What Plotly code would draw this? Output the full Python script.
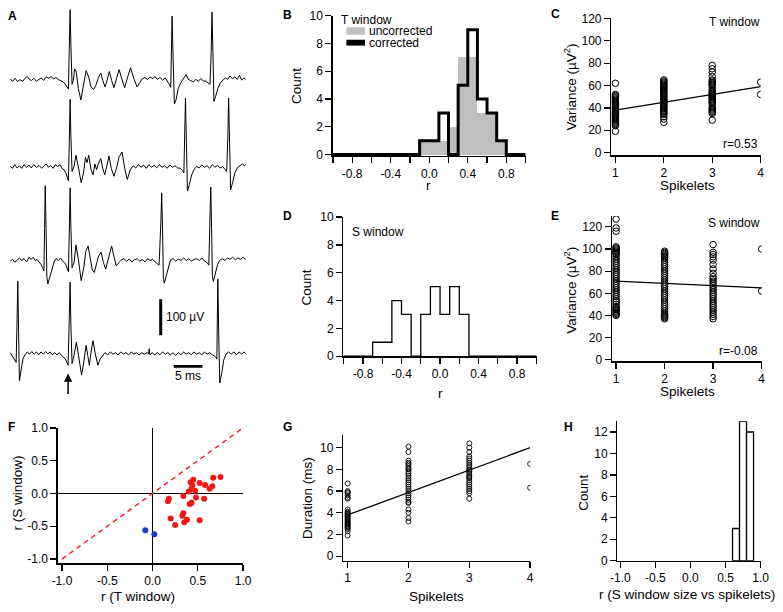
import plotly.graph_objects as go

W, H = 783, 612
FONT = "Liberation Sans, Arial, sans-serif"

# ---------------- Panel A: example traces (time ms, voltage uV rel. baseline) ----------------
A_trace1 = [(0.57,0),(1.02,-5),(1.42,3),(1.82,-6),(2.27,-1),(2.73,-5),(3.13,3),(3.53,8),(3.87,0),(4.27,-3),
            (4.66,3),(5.12,-5),(5.57,0),(5.97,4),(6.37,-3),(6.82,7),(7.28,3),(7.68,8),(8.08,1),(8.53,5),
            (8.99,-1),(9.38,-4),(9.78,-7),(10.12,-13),(10.46,-23),(10.69,-27),(10.83,83),(10.98,193),(11.12,92),
            (11.32,-14),(11.54,-3),(11.77,29),(12.06,20),(12.40,-25),(12.85,-57),(13.25,-21),(13.76,24),(14.22,6),
            (14.62,-21),(15.07,-28),(15.47,-16),(15.92,6),(16.32,17),(16.66,-3),(17.06,-21),(17.40,-3),(17.80,22),
            (18.20,-3),(18.60,-23),(19.05,2),(19.51,27),(19.96,2),(20.47,-23),(20.98,6),(21.50,32),(22.07,2),
            (22.63,-21),(23.09,-9),(23.54,2),(24.00,5),(24.45,0),(24.91,6),(25.36,2),(25.76,8),(26.16,0),
            (26.61,5),(27.07,-2),(27.52,4),(27.92,-5),(28.26,-14),(28.49,-22),(28.61,74),(28.72,175),(28.89,65),
            (29.12,-68),(29.40,-57),(29.80,-25),(30.25,-9),(30.71,4),(31.16,13),(31.56,0),(31.96,-3),(32.42,-7),
            (32.87,0),(33.27,-5),(33.72,2),(34.12,-4),(34.58,-5),(34.98,-9),(35.32,-14),(35.52,74),(35.66,186),
            (35.83,74),(36.00,-61),(36.28,-48),(36.68,-25),(37.14,-9),(37.54,-3),(37.99,4),(38.39,0),(38.79,9),
            (39.24,2),(39.64,7),(40.04,0),(40.44,11),(40.83,-2),(41.23,4),(41.52,0)]
A_trace2 = [(0.57,0),(0.97,-5),(1.36,5),(1.76,-4),(2.16,2),(2.56,-5),(2.96,5),(3.41,-2),(3.81,4),(4.21,-4),
            (4.66,5),(5.12,-3),(5.57,3),(6.03,-5),(6.43,2),(6.82,7),(7.22,-2),(7.62,3),(8.02,-5),(8.42,5),
            (8.81,0),(9.21,5),(9.55,-5),(9.90,-9),(10.24,-18),(10.52,-32),(10.69,-40),(10.83,63),(10.98,186),
            (11.12,81),(11.32,-14),(11.66,0),(12.00,31),(12.40,0),(12.91,-45),(13.31,-18),(13.65,25),(13.93,11),
            (14.22,31),(14.62,-9),(14.96,-23),(15.30,7),(15.58,-9),(15.92,9),(16.32,22),(16.66,-5),(17.00,-23),
            (17.35,0),(17.74,29),(18.14,-5),(18.60,-27),(19.05,-5),(19.51,27),(20.02,40),(20.47,-5),(20.93,-36),
            (21.44,-9),(21.95,2),(22.41,-4),(22.86,5),(23.32,-2),(23.77,4),(24.23,-5),(24.68,5),(25.14,-2),
            (25.59,3),(26.05,-4),(26.50,5),(26.96,-2),(27.41,2),(27.87,-5),(28.32,4),(28.78,-2),(29.23,2),
            (29.69,-4),(30.14,-5),(30.54,-11),(30.77,-18),(30.91,81),(31.05,189),(31.22,63),(31.39,-68),
            (31.73,-50),(32.13,-23),(32.53,-9),(32.98,0),(33.44,-4),(33.89,4),(34.35,-2),(34.80,2),(35.26,-5),
            (35.71,5),(36.17,-2),(36.62,3),(37.08,-4),(37.53,0),(37.87,-7),(38.22,-14),(38.42,81),(38.56,189),
            (38.73,63),(38.90,-65),(39.24,-45),(39.64,-18),(40.09,-3),(40.55,2),(40.95,7),(41.29,2),(41.52,5)]
A_trace3 = [(0.57,-2),(0.97,3),(1.37,-5),(1.76,2),(2.16,7),(2.56,0),(2.96,5),(3.41,-4),(3.81,9),(4.21,3),
            (4.55,9),(4.89,0),(5.23,3),(5.57,-4),(5.92,-11),(6.20,-20),(6.43,-29),(6.54,88),(6.65,207),(6.80,88),
            (6.94,-47),(7.11,-65),(7.40,-49),(7.79,-22),(8.19,-4),(8.53,5),(8.93,0),(9.33,7),(9.67,-2),(10.01,-6),
            (10.30,-13),(10.58,-27),(10.69,-31),(10.83,79),(10.98,201),(11.12,88),(11.32,-20),(11.66,-6),(12.00,43),
            (12.40,5),(12.91,-56),(13.36,-20),(13.71,25),(14.11,40),(14.50,-2),(14.85,-27),(15.19,-33),(15.53,-11),
            (15.92,12),(16.38,23),(16.78,-6),(17.17,-24),(17.63,7),(18.20,40),(18.60,12),(19.00,-15),(19.45,-6),
            (19.91,2),(20.36,5),(20.82,-2),(21.28,4),(21.73,-4),(22.19,2),(22.64,5),(23.10,-2),(23.55,3),
            (24.01,-4),(24.46,5),(24.92,0),(25.37,3),(25.78,-4),(26.17,-9),(26.46,-13),(26.77,106),(26.91,187),
            (27.06,88),(27.20,-47),(27.37,-63),(27.71,-40),(28.11,-13),(28.45,2),(28.91,5),(29.36,-2),(29.82,4),
            (30.27,0),(30.73,7),(31.18,0),(31.64,5),(32.09,-2),(32.55,3),(33.00,5),(33.46,0),(33.91,7),(34.37,-2),
            (34.82,-6),(35.11,-13),(35.31,88),(35.45,203),(35.59,88),(35.73,-42),(35.90,-58),(36.25,-33),
            (36.64,-11),(36.99,0),(37.44,5),(37.90,0),(38.35,7),(38.81,3),(39.26,9),(39.72,2),(40.17,7),(40.63,3),
            (41.08,9),(41.54,3)]
A_trace4 = [(0.57,3),(0.91,-5),(1.25,-14),(1.59,-24),(1.73,77),(1.88,201),(2.02,59),(2.16,-75),(2.45,-45),
            (2.79,-14),(3.13,-3),(3.53,5),(3.92,-1),(4.32,6),(4.72,-1),(5.12,5),(5.52,-3),(5.91,5),(6.31,-1),
            (6.71,6),(7.11,0),(7.51,5),(7.90,-3),(8.30,3),(8.70,-3),(9.10,3),(9.50,-5),(9.84,-9),(10.12,-14),
            (10.41,-23),(10.63,-32),(10.80,77),(10.98,198),(11.12,77),(11.32,-27),(11.66,-5),(12.06,32),(12.45,-5),
            (12.97,-59),(13.36,-23),(13.76,23),(14.05,-5),(14.33,-32),(14.62,5),(14.96,36),(15.36,0),(15.81,-32),
            (16.21,-14),(16.61,-5),(17.06,3),(17.52,-3),(17.97,5),(18.43,-1),(18.88,3),(19.34,-3),(19.79,5),
            (20.25,-1),(20.70,3),(21.16,-3),(21.61,5),(22.07,-1),(22.52,3),(22.98,-3),(23.43,3),(23.89,-1),
            (24.34,3),(24.62,0),(24.74,14),(24.85,-3),(25.25,3),(25.71,-3),(26.16,3),(26.61,-3),(27.07,5),
            (27.52,-1),(27.98,3),(28.44,-3),(28.89,3),(29.35,-5),(29.80,3),(30.25,-3),(30.71,5),(31.16,-1),
            (31.62,3),(32.07,-3),(32.53,5),(32.98,-1),(33.44,3),(33.89,-3),(34.35,5),(34.80,-1),(35.26,3),
            (35.71,-3),(36.05,-5),(36.34,-10),(36.51,-15),(36.59,95),(36.68,207),(36.85,41),(37.02,-81),
            (37.36,-54),(37.70,-18),(38.10,-1),(38.56,5),(39.01,-1),(39.47,5),(39.92,-3),(40.38,5),(40.83,-1),
            (41.23,5),(41.52,1)]

# ---------------- Histograms (bins of 0.1 from -1 to 1) ----------------
r_edges = [-1.0, -0.9, -0.8, -0.7, -0.6, -0.5, -0.4, -0.3, -0.2, -0.1, 0.0,
           0.1, 0.2, 0.3, 0.4, 0.5, 0.6, 0.7, 0.8, 0.9, 1.0]
B_uncorrected = [0, 0, 0, 0, 0, 0, 0, 0, 0, 1, 1, 1, 2, 7, 7, 3, 3, 1, 0, 0]
B_corrected   = [0, 0, 0, 0, 0, 0, 0, 0, 0, 1, 1, 3, 0, 5, 9, 4, 3, 1, 0, 0]
D_counts      = [0, 0, 0, 1, 1, 4, 3, 0, 3, 5, 3, 5, 3, 0, 0, 0, 0, 0, 0, 0]
H_counts      = [0, 0, 0, 0, 0, 0, 0, 0, 0, 0, 0, 0, 0, 0, 0, 0, 3, 13, 12, 0]

# ---------------- C: variance, T window ----------------
C_var_1 = [62, 52, 51, 50, 49, 48, 47, 46, 45, 44, 43, 42, 41, 40, 39, 38, 37, 36, 35, 34, 33, 32, 31, 30,
           29, 28, 27, 26, 25, 24, 19]
C_var_2 = [65, 64, 63, 62, 61, 60, 59, 58, 57, 56, 55, 54, 53, 52, 51, 50, 49, 48, 47, 46, 45, 44, 43, 42,
           41, 40, 39, 38, 37, 36, 35, 34, 32, 30, 27]
C_var_3 = [78, 75, 72, 68, 65, 64, 63, 62, 61, 60, 58, 56, 55, 54, 53, 52, 51, 50, 49, 48, 47, 46, 45, 44,
           42, 40, 39, 38, 37, 36, 35, 29]
C_var_4 = [63, 52]
C_fit_x = [1, 4]
C_fit_y = [38, 59]

# ---------------- E: variance, S window ----------------
E_var_1 = [127, 119, 116, 102, 101, 100, 99, 98, 97, 96, 95, 93, 91, 89, 87, 85, 83, 81, 79, 77, 75, 73, 71,
           69, 67, 65, 63, 61, 59, 57, 55, 53, 52, 50, 48, 47, 46, 45, 44, 43, 42, 41, 40]
E_var_2 = [98, 97, 96, 95, 94, 93, 92, 90, 88, 86, 84, 82, 80, 78, 76, 74, 72, 70, 68, 66, 64, 62, 60, 58,
           56, 54, 52, 50, 48, 46, 44, 42, 41, 40, 39, 38, 37]
E_var_3 = [104, 97, 95, 93, 90, 86, 82, 78, 75, 73, 71, 69, 67, 65, 63, 61, 59, 57, 55, 53, 51, 49, 47, 45,
           43, 41, 39, 37]
E_var_4 = [100, 62]
E_fit_x = [1, 4]
E_fit_y = [71, 65]

# ---------------- F: r(S) vs r(T) ----------------
F_red_x = [0.45, 0.42, 0.52, 0.58, 0.67, 0.75, 0.66, 0.63, 0.43, 0.47, 0.44, 0.34, 0.18, 0.17, 0.48, 0.57,
           0.43, 0.41, 0.34, 0.33, 0.20, 0.38, 0.35, 0.25, 0.52, 0.40]
F_red_y = [0.21, 0.17, 0.16, 0.13, 0.24, 0.25, 0.11, 0.07, 0.07, 0.04, 0.12, -0.04, -0.08, -0.12, -0.06,
           -0.08, -0.14, -0.16, -0.30, -0.34, -0.38, -0.40, -0.44, -0.48, -0.41, 0.03]
F_blue_x = [-0.08, 0.02]
F_blue_y = [-0.56, -0.62]

# ---------------- G: duration ----------------
G_dur_1 = [6.7, 6.0, 5.9, 5.8, 5.6, 5.4, 5.3, 4.3, 4.1, 4.0, 3.9, 3.8, 3.7, 3.6, 3.5, 3.4, 3.3, 3.2, 3.1,
           3.0, 2.9, 2.8, 2.7, 2.6, 2.5, 2.3, 1.9]
G_dur_2 = [10.1, 9.6, 8.8, 8.6, 8.5, 8.3, 8.1, 8.0, 7.8, 7.6, 7.4, 7.2, 7.0, 6.8, 6.6, 6.4, 6.2, 6.0, 5.8,
           5.6, 5.4, 5.2, 5.0, 4.9, 4.3, 4.0, 3.5, 3.2]
G_dur_3 = [10.4, 10.0, 9.6, 9.2, 9.0, 8.8, 8.6, 8.4, 8.2, 8.0, 7.9, 7.8, 7.6, 7.4, 7.3, 7.2, 7.0, 6.8, 6.6,
           6.4, 6.2, 6.0, 5.8, 5.3]
G_dur_4 = [8.5, 6.3]
G_fit_x = [1, 4]
G_fit_y = [3.8, 10.0]

# ---------------- layout constants ----------------
A_offsets_uV = [881, 640, 380, 122]


def xd(a, b):
    return [a / W, b / W]


def yd(top, bottom):
    return [1 - bottom / H, 1 - top / H]


def txt(s, x, y, size=12, xa='center', ya='middle', angle=0, bold=False):
    return dict(text=(f"<b>{s}</b>" if bold else s), x=x / W, y=1 - y / H, xref='paper', yref='paper',
                xanchor=xa, yanchor=ya, showarrow=False, textangle=angle,
                font=dict(family=FONT, size=size, color='black'))


def ax_style(**kw):
    base = dict(showline=True, linecolor='black', linewidth=1.3, ticks='outside', ticklen=6, tickwidth=1.3,
                tickcolor='black', showgrid=False, zeroline=False, fixedrange=True,
                tickfont=dict(family=FONT, size=12, color='black'))
    base.update(kw)
    return base


def step_outline(edges, counts):
    xs = [edges[0]] + list(edges[:-1]) + [edges[-1]]
    ys = [0] + list(counts) + [0]
    return xs, ys


def cat_scatter(groups):
    xs, ys = [], []
    for k, vals in enumerate(groups, start=1):
        xs += [k] * len(vals)
        ys += vals
    return xs, ys


centers = [(r_edges[i] + r_edges[i + 1]) / 2 for i in range(len(r_edges) - 1)]

fig = go.Figure()

# Panel A traces
for tr, off in zip([A_trace1, A_trace2, A_trace3, A_trace4], A_offsets_uV):
    fig.add_trace(go.Scatter(x=[p[0] for p in tr], y=[p[1] + off for p in tr], mode='lines',
                             line=dict(color='black', width=1.0), xaxis='x', yaxis='y', hoverinfo='skip'))

# Panel B
fig.add_trace(go.Bar(x=centers, y=B_uncorrected, width=0.1, marker=dict(color='#bfbfbf', line=dict(width=0)),
                     xaxis='x2', yaxis='y2'))
sx, sy = step_outline(r_edges, B_corrected)
fig.add_trace(go.Scatter(x=sx, y=sy, mode='lines', line=dict(color='black', width=3, shape='hv'),
                         xaxis='x2', yaxis='y2'))

# Panel C
cx, cy = cat_scatter([C_var_1, C_var_2, C_var_3, C_var_4])
fig.add_trace(go.Scatter(x=cx, y=cy, mode='markers', xaxis='x3', yaxis='y3',
                         marker=dict(symbol='circle-open', size=6.5, color='black', line=dict(width=1))))
fig.add_trace(go.Scatter(x=C_fit_x, y=C_fit_y, mode='lines', line=dict(color='black', width=1.3),
                         xaxis='x3', yaxis='y3'))

# Panel D
sx, sy = step_outline(r_edges, D_counts)
fig.add_trace(go.Scatter(x=sx, y=sy, mode='lines', line=dict(color='black', width=1.3, shape='hv'),
                         xaxis='x4', yaxis='y4'))

# Panel E
ex, ey = cat_scatter([E_var_1, E_var_2, E_var_3, E_var_4])
fig.add_trace(go.Scatter(x=ex, y=ey, mode='markers', xaxis='x5', yaxis='y5',
                         marker=dict(symbol='circle-open', size=6.5, color='black', line=dict(width=1))))
fig.add_trace(go.Scatter(x=E_fit_x, y=E_fit_y, mode='lines', line=dict(color='black', width=1.3),
                         xaxis='x5', yaxis='y5'))

# Panel F
fig.add_trace(go.Scatter(x=[-1, 1], y=[-1, 1], mode='lines', line=dict(color='#e8202a', width=1.4, dash='5px,4px'),
                         xaxis='x6', yaxis='y6'))
fig.add_trace(go.Scatter(x=F_red_x, y=F_red_y, mode='markers', marker=dict(color='#f01818', size=6),
                         xaxis='x6', yaxis='y6'))
fig.add_trace(go.Scatter(x=F_blue_x, y=F_blue_y, mode='markers', marker=dict(color='#1c3cc8', size=6),
                         xaxis='x6', yaxis='y6'))

# Panel G
gx, gy = cat_scatter([G_dur_1, G_dur_2, G_dur_3, G_dur_4])
fig.add_trace(go.Scatter(x=gx, y=gy, mode='markers', xaxis='x7', yaxis='y7',
                         marker=dict(symbol='circle-open', size=5, color='black', line=dict(width=0.9))))
fig.add_trace(go.Scatter(x=G_fit_x, y=G_fit_y, mode='lines', line=dict(color='black', width=1.3),
                         xaxis='x7', yaxis='y7'))

# Panel H
hx = [c for c, n in zip(centers, H_counts) if n > 0]
hy = [n for n in H_counts if n > 0]
fig.add_trace(go.Bar(x=hx, y=hy, width=0.1, marker=dict(color='white', line=dict(color='black', width=1.3)),
                     xaxis='x8', yaxis='y8'))

r_ticks = [-0.8, -0.4, 0.0, 0.4, 0.8]
r_minor = [-1.0, -0.6, -0.2, 0.2, 0.6, 1.0]
half_ticks = [-1.0, -0.5, 0.0, 0.5, 1.0]

layout = dict(
    width=W, height=H, margin=dict(l=0, r=0, t=0, b=0), showlegend=False,
    paper_bgcolor='white', plot_bgcolor='rgba(0,0,0,0)', bargap=0,
    xaxis=dict(domain=xd(0, 250), range=[0, 42.66], visible=False, fixedrange=True),
    yaxis=dict(domain=yd(0, 400), range=[0, 1081.2], visible=False, fixedrange=True),
    xaxis2=ax_style(domain=xd(332, 529), range=[-1.003, 1.003], anchor='y2', tickmode='array', tickvals=r_ticks,
                    ticktext=[f"{v:.1f}" for v in r_ticks],
                    minor=dict(tickmode='array', tickvals=r_minor, ticks='outside', ticklen=6, tickwidth=1.3,
                               tickcolor='black', showgrid=False)),
    yaxis2=ax_style(domain=yd(8.7, 152.4), range=[-0.1, 10.02], anchor='x2', tickvals=[0, 2, 4, 6, 8, 10]),
    xaxis3=ax_style(domain=xd(616, 768.5), range=[0.913, 4.003], anchor='y3', tickvals=[1, 2, 3, 4]),
    yaxis3=ax_style(domain=yd(11.5, 151.7), range=[-2.4, 120.2], anchor='x3', tickvals=[0, 20, 40, 60, 80, 100, 120]),
    xaxis4=ax_style(domain=xd(343, 540), range=[-1.003, 1.003], anchor='y4', tickmode='array', tickvals=r_ticks,
                    ticktext=[f"{v:.1f}" for v in r_ticks],
                    minor=dict(tickmode='array', tickvals=r_minor, ticks='outside', ticklen=6, tickwidth=1.3,
                               tickcolor='black', showgrid=False)),
    yaxis4=ax_style(domain=yd(214.7, 357.5), range=[-0.01, 10.02], anchor='x4', tickvals=[0, 2, 4, 6, 8, 10]),
    xaxis5=ax_style(domain=xd(616.7, 769.5), range=[0.913, 4.003], anchor='y5', tickvals=[1, 2, 3, 4]),
    yaxis5=ax_style(domain=yd(214, 362.5), range=[-1.3, 129.7], anchor='x5', tickvals=[0, 20, 40, 60, 80, 100, 120]),
    xaxis6=ax_style(domain=xd(51.7, 241), range=[-1.047, 1.003], anchor='y6', tickvals=half_ticks,
                    ticktext=[f"{v:.1f}" for v in half_ticks], zeroline=True, zerolinecolor='black',
                    zerolinewidth=1.3),
    yaxis6=ax_style(domain=yd(430.5, 569.3), range=[-1.064, 1.003], anchor='x6', tickvals=half_ticks,
                    ticktext=[f"{v:.1f}" for v in half_ticks], zeroline=True, zerolinecolor='black',
                    zerolinewidth=1.3),
    xaxis7=ax_style(domain=xd(342.7, 533.5), range=[0.926, 4.003], anchor='y7', tickvals=[1, 2, 3, 4]),
    yaxis7=ax_style(domain=yd(438, 566.7), range=[-0.42, 11.17], anchor='x7', tickvals=[0, 2, 4, 6, 8, 10]),
    xaxis8=ax_style(domain=xd(622.3, 768.5), range=[-1.042, 1.003], anchor='y8', tickvals=half_ticks,
                    ticktext=[f"{v:.1f}" for v in half_ticks]),
    yaxis8=ax_style(domain=yd(424, 566.7), range=[-0.005, 13.0], anchor='x8', tickvals=[0, 2, 4, 6, 8, 10, 12]),
)
fig.update_layout(**layout)

shapes = [
    # scale bars in panel A (data units: ms, uV)
    dict(type='line', xref='x', yref='y', x0=26.74, x1=26.74, y0=173, y1=273, line=dict(color='black', width=3)),
    dict(type='line', xref='x', yref='y', x0=29.0, x1=34.0, y0=87, y1=87, line=dict(color='black', width=2.7)),
    # legend swatches in B
    dict(type='rect', xref='paper', yref='paper', x0=346 / W, x1=365 / W, y0=1 - 28.3 / H, y1=1 - 20.7 / H,
         fillcolor='#bfbfbf', line=dict(width=0)),
    dict(type='rect', xref='paper', yref='paper', x0=346 / W, x1=365 / W, y0=1 - 39.5 / H, y1=1 - 33.5 / H,
         fillcolor='black', line=dict(width=0)),
]
fig.update_layout(shapes=shapes)

ann = [
    txt('A', 6, 9, size=12, bold=True),
    txt('B', 286, 8, size=12, bold=True),
    txt('C', 559, 7.5, size=12, bold=True),
    txt('D', 286, 214, size=12, bold=True),
    txt('E', 559, 214, size=12, bold=True),
    txt('F', 5, 429.5, size=12, bold=True),
    txt('G', 286, 429.5, size=12, bold=True),
    txt('H', 572.5, 429.5, size=12, bold=True),
    # A labels
    txt('100 µV', 160, 317, size=12, xa='left'),
    txt('5 ms', 185, 378, size=12),
    # B legend
    txt('T window', 338.3, 13.5, size=12, xa='left'),
    txt('uncorrected', 367.3, 24.5, size=12, xa='left'),
    txt('corrected', 367.3, 36.7, size=12, xa='left'),
    # in-panel labels
    txt('T window', 770, 15, size=12, xa='right'),
    txt('r=0.53', 768, 140, size=12, xa='right'),
    txt('S window', 349.3, 230, size=12, xa='left'),
    txt('S window', 770, 220.7, size=12, xa='right'),
    txt('r=-0.08', 768, 352.3, size=12, xa='right'),
    # axis titles
    txt('Count', 294.5, 81, size=13.5, angle=-90),
    txt('r', 430, 183, size=13.5),
    txt('Variance (µV<sup>2</sup>)', 574, 82.5, size=13.5, angle=-90),
    txt('Spikelets', 693.5, 182.5, size=13.5),
    txt('Count', 305, 287, size=13.5, angle=-90),
    txt('r', 441.7, 395.5, size=13.5),
    txt('Variance (µV<sup>2</sup>)', 574.5, 290, size=13.5, angle=-90),
    txt('Spikelets', 693.5, 394, size=13.5),
    txt('r (S window)', 11, 497, size=13.5, angle=-90),
    txt('r (T window)', 134, 603, size=13.5),
    txt('Duration (ms)', 306.5, 503, size=13.5, angle=-90),
    txt('Spikelets', 437.5, 603, size=13.5),
    txt('Count', 587, 497.5, size=13.5, angle=-90),
    txt('r (S window size vs spikelets)', 693, 601, size=13.5),
    # arrow under trace 4
    dict(x=10.63, y=67.6, xref='x', yref='y', ax=0, ay=22, showarrow=True, arrowhead=2, arrowsize=1.1,
         arrowwidth=1.5, arrowcolor='black', text=''),
]
fig.update_layout(annotations=ann)

fig.write_html("out.html", config={'displayModeBar': False, 'staticPlot': True},
               post_script="document.body.style.margin='0px';document.body.style.overflow='hidden';")
